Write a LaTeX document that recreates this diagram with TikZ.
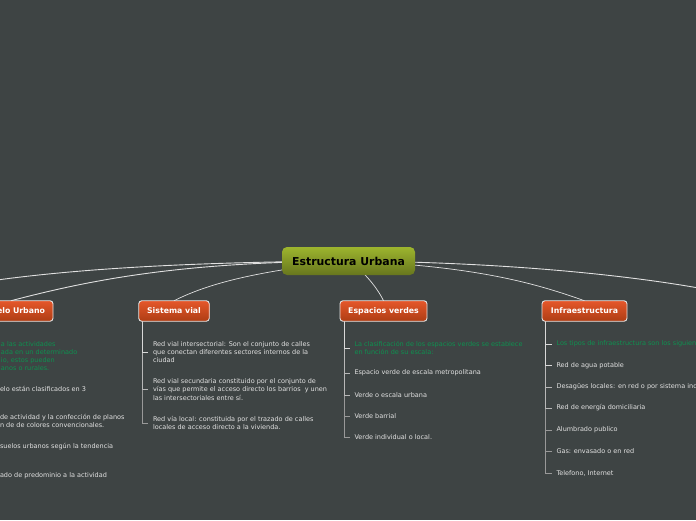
\documentclass[tikz,border=0pt]{standalone}
\usepackage{fontspec}
\setmainfont{DejaVu Sans}
\pgfdeclarelayer{conn}
\pgfsetlayers{conn,main}
\definecolor{bgc}{HTML}{3E4444}
\definecolor{txt}{HTML}{E2E2E2}
\definecolor{grn}{HTML}{0E9150}
\definecolor{topo}{HTML}{E5572A}
\definecolor{boto}{HTML}{AE3D14}
\definecolor{ctop}{HTML}{9DB52E}
\definecolor{cbot}{HTML}{67761E}
\tikzset{
  x=1pt,y=-1pt,
  link/.style={draw=white!88!black,line width=0.9pt},
  topic/.style={rounded corners=3pt,draw=white!90!black,line width=0.9pt,top color=topo,bottom color=boto,minimum height=20.5pt,inner sep=0pt,outer sep=0pt,text=white,text height=5.6pt,text depth=1.6pt,font=\fontsize{7.8}{9}\selectfont\bfseries},
  leaf/.style={anchor=west,align=left,inner ysep=0pt,inner xsep=5pt,outer sep=0pt,text=txt,font=\fontsize{6.5}{8.1}\selectfont},
  leafg/.style={leaf,text=grn},
  lone/.style={leaf,inner xsep=0pt},
  loneg/.style={leafg,inner xsep=0pt},
  b1/.style={draw=white!85!black,line width=1pt},
  b2/.style={draw=white!72!black,line width=.9pt},
  b3/.style={draw=white!60!black,line width=.8pt},
}
\begin{document}
\begin{tikzpicture}
\useasboundingbox (0,0) rectangle (696,520);
\begin{pgfonlayer}{conn}
\fill[bgc] (0,0) rectangle (696,520);
\end{pgfonlayer}
% central
\node[rounded corners=5pt,top color=ctop,bottom color=cbot,minimum width=133pt,minimum height=28pt,inner sep=0pt,font=\fontsize{10.9}{12}\selectfont\bfseries,text=black] (c) at (348.5,261) {Estructura Urbana};
% topics
\node[topic,minimum width=84pt,text width=68pt,align=right] (su) at (11,311) {elo Urbano};
\node[topic,minimum width=70.5pt] (sv) at (174,311) {Sistema vial};
\node[topic,minimum width=87pt] (ev) at (383.5,311) {Espacios verdes};
\node[topic,minimum width=85pt] (in) at (584.5,311) {Infraestructura};
\coordinate (fl) at (-30,284);
\coordinate (fr) at (730,294);
% Suelo leaves
\node[loneg] (s1) at (1,356) {a las actividades\\ada en un determinado\\io, estos pueden\\anos o rurales.};
\node[lone] (s2) at (0,389) {elo están clasificados en 3};
\node[lone] (s3) at (0,421) {de actividad y la confección de planos\\n de de colores convencionales.};
\node[lone] (s4) at (0,447) {suelos urbanos según la tendencia};
\node[lone] (s5) at (0,476) {ado de predominio a la actividad};
% Sistema vial leaves
\node[leaf] (v1) at (148,352) {Red vial intersectorial: Son el conjunto de calles\\que conectan diferentes sectores internos de la\\ciudad};
\node[leaf] (v2) at (148,389.5) {Red vial secundaria constituido por el conjunto de\\vías que permite el acceso directo los barrios\ \ y unen\\las intersectoriales entre sí.};
\node[leaf] (v3) at (148,423) {Red vía local: constituida por el trazado de calles\\locales de acceso directo a la vivienda.};
% Espacios leaves
\node[leafg] (e1) at (349.5,348) {La clasificación de los espacios verdes se establece\\en función de su escala:};
\node[leaf] (e2) at (349.5,373) {Espacio verde de escala metropolitana};
\node[leaf] (e3) at (349.5,395) {Verde o escala urbana};
\node[leaf] (e4) at (349.5,416) {Verde barrial};
\node[leaf] (e5) at (349.5,437.5) {Verde individual o local.};
% Infra leaves
\node[leafg] (i1) at (551.5,344) {Los tipos de infraestructura son los siguien};
\node[leaf] (i2) at (551.5,365.2) {Red de agua potable};
\node[leaf] (i3) at (551.5,387) {Desagües locales: en red o por sistema ind};
\node[leaf] (i4) at (551.5,408) {Red de energía domiciliaria};
\node[leaf] (i5) at (551.5,430) {Alumbrado publico};
\node[leaf] (i6) at (551.5,451) {Gas: envasado o en red};
\node[leaf] (i7) at (551.5,473) {Telefono, Internet};
\coordinate (svt) at (142.5,321);
\coordinate (evt) at (344.5,321);
\coordinate (int) at (545.5,321);
\begin{pgfonlayer}{conn}
\draw[link] (c.center) .. controls (200,262) and (70,268) .. (fl);
\draw[link] (c.center) .. controls (180,262) and (90,280) .. (su.north);
\draw[link,line width=.7pt] (c.center) .. controls (270,270) and (215,280) .. (sv.north);
\draw[link,line width=.7pt] (c.center) .. controls (360,268) and (376,285) .. (ev.north);
\draw[link,line width=.7pt] (c.center) .. controls (480,266) and (540,285) .. (in.north);
\draw[link] (c.center) .. controls (500,262) and (640,275) .. (fr);
\draw[b3] (svt) |- (v3.west);
\draw[b2] (svt) |- (v2.west);
\draw[b1] (svt) |- (v1.west);
\draw[b3] (evt) |- (e5.west);
\draw[b3] (evt) |- (e4.west);
\draw[b2] (evt) |- (e3.west);
\draw[b2] (evt) |- (e2.west);
\draw[b1] (evt) |- (e1.west);
\draw[b3] (int) |- (i7.west);
\draw[b3] (int) |- (i6.west);
\draw[b3] (int) |- (i5.west);
\draw[b2] (int) |- (i4.west);
\draw[b2] (int) |- (i3.west);
\draw[b1] (int) |- (i2.west);
\draw[b1] (int) |- (i1.west);
\end{pgfonlayer}
\end{tikzpicture}
\end{document}
